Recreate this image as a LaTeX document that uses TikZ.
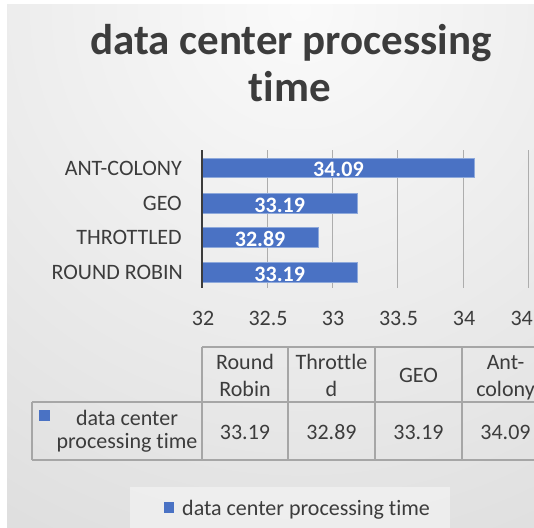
\documentclass[tikz,border=0pt]{standalone}
\usepackage{fontspec}
\setmainfont{Carlito}[Ligatures=NoCommon]
\usetikzlibrary{calc}

\definecolor{barblue}{HTML}{4A72C4}
\definecolor{barrim}{HTML}{8EA9DB}
\definecolor{inktext}{HTML}{3C3C3C}
\definecolor{gridgray}{HTML}{ADADAD}
\definecolor{tablegray}{HTML}{A6A6A6}
\definecolor{bgin}{HTML}{FAFAFA}
\definecolor{bgout}{HTML}{C6C6C6}

\pgfdeclareradialshading{chartbg}{\pgfpoint{0bp}{0bp}}{color(0bp)=(bgin); color(38bp)=(bgout); color(50bp)=(bgout)}

\tikzset{
  txt/.style={inner sep=0pt, text=inktext, font=\fontsize{22}{26}\selectfont, anchor=base},
  cat/.style={txt, anchor=base east},
  val/.style={inner sep=0pt, text=white, font=\fontsize{22}{26}\selectfont\bfseries, anchor=base},
  headline/.style={inner sep=0pt, text=inktext, font=\fontsize{43}{50}\selectfont\bfseries, anchor=base},
  tline/.style={draw=tablegray, line width=1.3pt},
  gline/.style={draw=gridgray, line width=1pt},
  barfill/.style={fill=barblue, draw=barrim, line width=0.6pt},
}

\begin{document}
\begin{tikzpicture}[x=1pt, y=-1pt]
	%%%%% START %%%%%
	\useasboundingbox (0,0) rectangle (534,527);
	\fill[white] (0,0) rectangle (534,527);
	
	\begin{scope}
		\clip (7,5) rectangle (534,527);
		\shade[shading=chartbg] (300,10) circle (740pt);
		
		% title
		\node[headline] (title1) at (291,55) {data center processing};
		\node[headline] (title2) at (290,101) {time};
		
		% grid
		\draw[gline] (267.25,150) -- (267.25,288);
		\draw[gline] (332.5,150) -- (332.5,288);
		\draw[gline] (397.75,150) -- (397.75,288);
		\draw[gline] (463,150) -- (463,288);
		\draw[gline] (528.25,150) -- (528.25,288);
		
		% bars
		\draw[barfill] (202,158) rectangle (474.7,177);
		\draw[barfill] (202,193) rectangle (357.3,213);
		\draw[barfill] (202,227.5) rectangle (318.1,247);
		\draw[barfill] (202,262) rectangle (357.3,282);
		\draw[inktext, line width=2.5pt] (202,150) -- (202,288);
		
		\node[val] (vant) at (338.4,176.5) {34.09};
		\node[val] (vgeo) at (279.7,212.5) {33.19};
		\node[val] (vthr) at (260.1,246.5) {32.89};
		\node[val] (vrr) at (279.7,281.5) {33.19};
		
		\node[cat] (ant) at (182,175) {ANT-COLONY};
		\node[cat] (geo) at (182,210) {GEO};
		\node[cat] (thr) at (182,244) {THROTTLED};
		\node[cat] (rr) at (183,279) {ROUND ROBIN};
		
		% axis values
		\node[txt] (t320) at (203,325) {32};
		\node[txt] (t325) at (268,325) {32.5};
		\node[txt] (t330) at (333,325) {33};
		\node[txt] (t335) at (398.5,325) {33.5};
		\node[txt] (t340) at (464,325) {34};
		\node[txt] (t345) at (530,325) {34.5};
		
		% data table
		\draw[tline] (202,347) -- (549,347);
		\draw[tline] (32,402) -- (549,402);
		\draw[tline] (32,460) -- (549,460);
		\draw[tline] (32,402) -- (32,460);
		\draw[tline] (202,347) -- (202,460);
		\draw[tline] (288,347) -- (288,460);
		\draw[tline] (375,347) -- (375,460);
		\draw[tline] (462,347) -- (462,460);
		\draw[tline] (549,347) -- (549,460);
		
		\node[txt] (hrr1) at (245,369) {Round};
		\node[txt] (hrr2) at (245,396) {Robin};
		\node[txt] (hthr1) at (331.5,369) {Throttle};
		\node[txt] (hthr2) at (331.5,396) {d};
		\node[txt] (hgeo) at (418.5,382.5) {GEO};
		\node[txt] (hant1) at (505.5,369) {Ant-};
		\node[txt] (hant2) at (505.5,396) {colony};
		
		\fill[barblue] (39,410) rectangle (50,421);
		\node[txt] (row1) at (127,425) {data center};
		\node[txt] (row2) at (127,448) {processing time};
		\node[txt] (crr) at (245,439) {33.19};
		\node[txt] (cthr) at (331.5,439) {32.89};
		\node[txt] (cgeo) at (418.5,439) {33.19};
		\node[txt] (cant) at (505.5,439) {34.09};
		
		% legend
		\fill[white, fill opacity=0.4] (130,487) rectangle (450,530);
		\fill[barblue] (164,502) rectangle (174,513);
		\node[txt, anchor=base west] (key) at (182,515) {data center processing time};
	\end{scope}
	
	%%%%% END %%%%%
\end{tikzpicture}
\end{document}
